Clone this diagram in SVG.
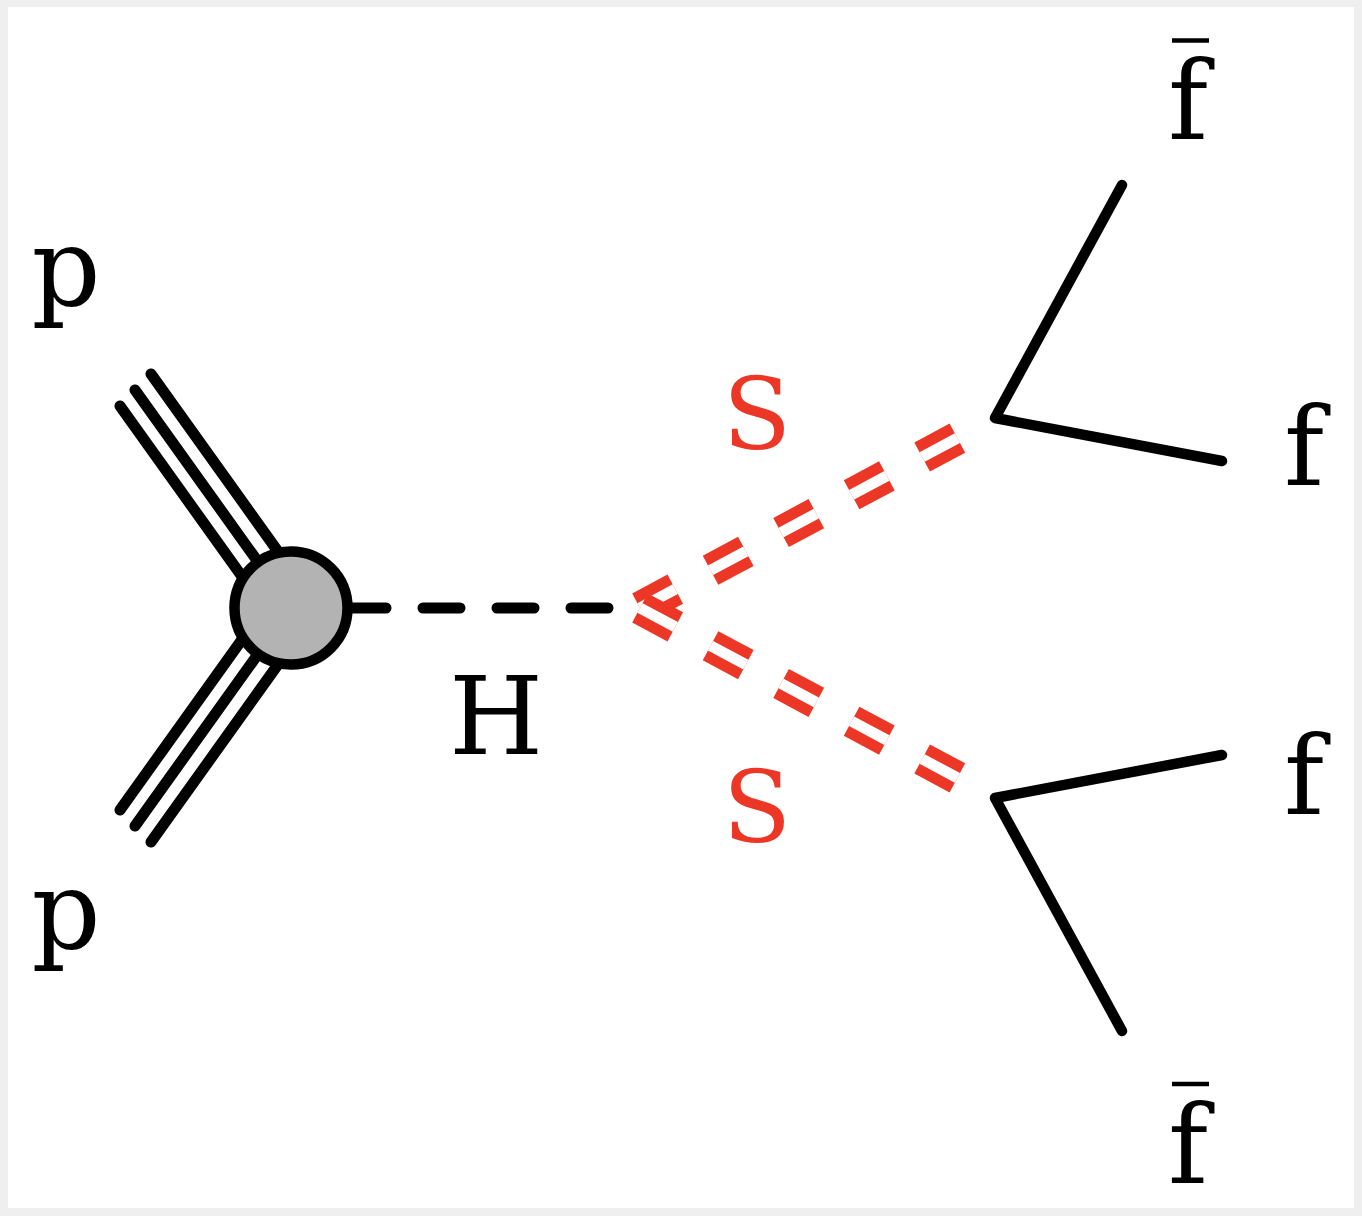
<svg xmlns="http://www.w3.org/2000/svg" width="1362" height="1216" viewBox="0 0 1362 1216">
<style>
.lbl{font-family:"DejaVu Serif","Liberation Serif",serif;font-size:108px;fill:#000}
.red{fill:#ed3726;font-size:100px}
.bar{stroke:#000;stroke-width:4.5}
.p{fill:none;stroke:#000;stroke-width:11;stroke-linecap:round}
.f{fill:none;stroke:#000;stroke-width:10.5;stroke-linecap:round;stroke-linejoin:round}
.h{fill:none;stroke:#000;stroke-width:11;stroke-linecap:round;stroke-dasharray:37 37}
.so{fill:none;stroke:#ed3726;stroke-width:33;stroke-dasharray:40 40}
.si{fill:none;stroke:#fff;stroke-width:11;stroke-dasharray:40 40}
</style>
<rect x="0" y="0" width="1362" height="1216" fill="#efefef"/>
<rect x="8" y="7" width="1346" height="1201" fill="#fff"/>
<g id="connectors">
  <path class="p" d="M120,406 L276,624 M135,390 L291,608 M151,374 L307,592"/>
  <path class="p" d="M120,810 L276,592 M135,826 L291,608 M151,842 L307,624"/>
  <path class="h" d="M349,608 L640,608"/>
  <path class="so" d="M640,608 L957.4,438.1"/>
  <path class="si" d="M640,608 L957.4,438.1"/>
  <path class="so" d="M640,608 L957.4,777.9"/>
  <path class="si" d="M640,608 L957.4,777.9"/>
  <polyline class="f" points="1122,185 995,418 1222,461"/>
  <polyline class="f" points="1222,755 995,798 1122,1031"/>
</g>
<g id="blob">
  <circle cx="291" cy="608" r="56.5" fill="#b3b3b3" stroke="#000" stroke-width="10.5"/>
</g>
<g id="label-p-top"><text class="lbl" x="66" y="305" text-anchor="middle">p</text></g>
<g id="label-p-bottom"><text class="lbl" x="66" y="948" text-anchor="middle">p</text></g>
<g id="label-H"><text class="lbl" x="496" y="754" text-anchor="middle">H</text></g>
<g id="label-S-top"><text class="lbl red" x="757" y="449" text-anchor="middle">S</text></g>
<g id="label-S-bottom"><text class="lbl red" x="757" y="842" text-anchor="middle">S</text></g>
<g id="label-fbar-top"><line class="bar" x1="1172" y1="40.5" x2="1209" y2="40.5"/><text class="lbl" x="1188" y="139" text-anchor="middle">f</text></g>
<g id="label-f-top"><text class="lbl" x="1304" y="485" text-anchor="middle">f</text></g>
<g id="label-f-bottom"><text class="lbl" x="1304" y="814" text-anchor="middle">f</text></g>
<g id="label-fbar-bottom"><line class="bar" x1="1172" y1="1084" x2="1209" y2="1084"/><text class="lbl" x="1188" y="1183" text-anchor="middle">f</text></g>
</svg>
